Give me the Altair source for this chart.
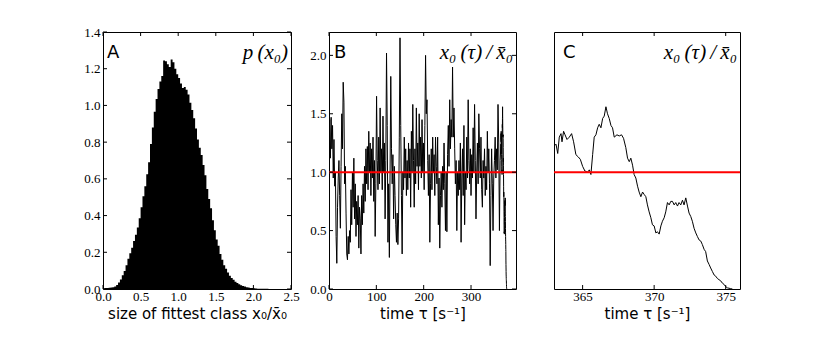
import altair as alt
import pandas as pd
import numpy as np

# ---------------- Panel A: histogram p(x0) ----------------
bin_start = 0.0
bin_width = 0.025
hist_density = [
    0.004, 0.005, 0.006, 0.007, 0.008, 0.010, 0.014, 0.022, 0.035, 0.052,
    0.075, 0.098, 0.130, 0.165, 0.195, 0.225, 0.262, 0.295, 0.335, 0.385,
    0.445, 0.505, 0.560, 0.625, 0.690, 0.790, 0.880, 0.965, 1.035, 1.090,
    1.130, 1.160, 1.245, 1.240, 1.225, 1.210, 1.250, 1.235, 1.200, 1.170,
    1.150, 1.120, 1.095, 1.100, 1.085, 1.060, 1.015, 0.975, 0.930, 0.875,
    0.815, 0.770, 0.730, 0.675, 0.620, 0.545, 0.490, 0.440, 0.375, 0.320,
    0.270, 0.235, 0.190, 0.160, 0.130, 0.110, 0.090, 0.072, 0.060, 0.050,
    0.040, 0.033, 0.026, 0.021, 0.017, 0.013, 0.010, 0.008, 0.006, 0.005,
    0.004, 0.003, 0.002, 0.002, 0.001, 0.001, 0.001, 0.001,
]
a_xticks = [0.0, 0.5, 1.0, 1.5, 2.0, 2.5]
a_yticks = [0.0, 0.2, 0.4, 0.6, 0.8, 1.0, 1.2, 1.4]

# ---------------- Panel B: full time series ----------------
b_time = [
    0, 1.5, 3, 4.5, 6, 7.5, 9, 10.5, 12, 13.5, 15, 16.5, 18, 19.5, 21, 22.5, 24, 25.5, 27, 28.5,
    30, 31.5, 33, 34.5, 36, 37.5, 39, 40.5, 42, 43.5, 45, 46.5, 48, 49.5, 51, 52.5, 54, 55.5, 57, 58.5,
    60, 61.5, 63, 64.5, 66, 67.5, 69, 70.5, 72, 73.5, 75, 76.5, 78, 79.5, 81, 82.5, 84, 85.5, 87, 88.5,
    90, 91.5, 93, 94.5, 96, 97.5, 99, 100.5, 102, 103.5, 105, 106.5, 108, 109.5, 111, 112.5, 114, 115.5, 117, 118.5,
    120, 121.5, 123, 124.5, 126, 127.5, 129, 130.5, 132, 133.5, 135, 136.5, 138, 139.5, 141, 142.5, 144, 145.5, 147, 148.5,
    150, 151.5, 153, 154.5, 156, 157.5, 159, 160.5, 162, 163.5, 165, 166.5, 168, 169.5, 171, 172.5, 174, 175.5, 177, 178.5,
    180, 181.5, 183, 184.5, 186, 187.5, 189, 190.5, 192, 193.5, 195, 196.5, 198, 199.5, 201, 202.5, 204, 205.5, 207, 208.5,
    210, 211.5, 213, 214.5, 216, 217.5, 219, 220.5, 222, 223.5, 225, 226.5, 228, 229.5, 231, 232.5, 234, 235.5, 237, 238.5,
    240, 241.5, 243, 244.5, 246, 247.5, 249, 250.5, 252, 253.5, 255, 256.5, 258, 259.5, 261, 262.5, 264, 265.5, 267, 268.5,
    270, 271.5, 273, 274.5, 276, 277.5, 279, 280.5, 282, 283.5, 285, 286.5, 288, 289.5, 291, 292.5, 294, 295.5, 297, 298.5,
    300, 301.5, 303, 304.5, 306, 307.5, 309, 310.5, 312, 313.5, 315, 316.5, 318, 319.5, 321, 322.5, 324, 325.5, 327, 328.5,
    330, 331.5, 333, 334.5, 336, 337.5, 339, 340.5, 342, 343.5, 345, 346.5, 348, 349.5, 351, 352.5, 354, 355.5, 357, 358.5,
    360, 361.5,
]
b_value = [
    1.30, 1.45, 1.12, 1.47, 1.20, 1.40, 0.95, 1.28, 0.88, 1.00, 0.45, 0.22, 0.70, 0.95, 1.10, 0.80, 0.52, 1.05, 1.50, 1.20,
    1.77, 1.60, 0.90, 1.05, 0.65, 0.30, 0.25, 0.45, 0.30, 0.50, 0.40, 0.85, 0.55, 1.00, 0.70, 1.12, 0.60, 0.90, 0.45, 0.75,
    0.55, 0.80, 0.35, 0.70, 0.60, 0.30, 0.80, 0.55, 0.90, 0.65, 1.05, 0.75, 1.20, 0.90, 1.22, 0.85, 1.35, 1.00, 1.25, 0.80,
    1.20, 0.95, 1.30, 0.75, 1.10, 0.45, 0.90, 1.65, 1.10, 0.85, 1.30, 0.90, 1.55, 1.00, 1.20, 0.85, 1.48, 1.00, 1.25, 0.60,
    1.10, 2.02, 1.40, 0.40, 0.90, 0.27, 1.00, 1.82, 1.20, 0.90, 1.15, 0.60, 1.05, 0.80, 0.55, 0.40, 0.65, 0.38, 0.60, 1.30,
    2.15, 1.40, 0.80, 0.30, 1.00, 0.85, 1.30, 0.95, 1.20, 0.80, 1.10, 0.85, 1.25, 0.95, 1.20, 0.70, 1.35, 1.00, 1.58, 1.10,
    0.70, 1.20, 0.90, 1.55, 1.05, 1.25, 0.85, 1.50, 1.05, 1.30, 0.95, 1.45, 1.00, 1.25, 0.85, 1.40, 2.00, 1.50, 1.62, 1.10,
    0.80, 1.15, 0.40, 0.90, 1.20, 0.85, 1.30, 1.00, 1.15, 0.80, 1.30, 1.05, 0.90, 1.30, 0.55, 0.95, 0.35, 0.80, 1.00, 0.70,
    1.05, 0.85, 1.25, 0.90, 0.50, 1.00, 0.49, 1.15, 1.40, 1.05, 1.62, 1.20, 1.45, 1.30, 1.90, 1.30, 1.55, 1.20, 0.90, 1.10,
    0.50, 1.00, 0.80, 1.10, 0.85, 1.25, 0.40, 0.95, 1.20, 0.80, 1.40, 0.55, 1.00, 0.85, 1.30, 0.95, 1.62, 1.10, 0.90, 1.20,
    0.80, 1.15, 0.95, 1.38, 1.00, 1.58, 1.10, 0.60, 1.00, 1.25, 0.90, 1.50, 1.20, 0.95, 1.30, 0.85, 0.70, 1.10, 0.95, 1.20,
    0.80, 1.05, 0.85, 1.35, 1.00, 1.20, 0.90, 0.20, 0.80, 1.20, 0.90, 0.50, 0.95, 1.10, 1.30, 0.95, 1.20, 1.02, 1.58, 1.25,
    0.50, 1.10,
]

# ---------------- Panel C: zoom on the final seconds ----------------
c_time = [
    362.98, 363.14, 363.26, 363.37, 363.49, 363.56, 363.67, 363.77, 363.91, 364.07,
    364.23, 364.37, 364.53, 364.70, 364.84, 365.00, 365.16, 365.35, 365.47, 365.58,
    365.70, 365.81, 365.93, 366.05, 366.16, 366.28, 366.40, 366.51, 366.63, 366.74,
    366.86, 366.98, 367.09, 367.21, 367.40, 367.56, 367.72, 367.86, 368.02, 368.14,
    368.26, 368.37, 368.49, 368.60, 368.72, 368.84, 368.95, 369.07, 369.19, 369.30,
    369.42, 369.53, 369.65, 369.77, 369.88, 370.00, 370.12, 370.23, 370.35, 370.47,
    370.58, 370.70, 370.81, 370.93, 371.05, 371.16, 371.28, 371.40, 371.51, 371.63,
    371.74, 371.86, 371.98, 372.09, 372.21, 372.33, 372.44, 372.56, 372.67, 372.79,
    372.91, 373.02, 373.14, 373.26, 373.37, 373.49, 373.60, 373.72, 373.84, 373.95,
    374.07, 374.19, 374.30, 374.42, 374.53, 374.65, 374.77, 374.88, 375.00, 375.12,
    375.35, 375.47,
]
c_value = [
    1.22, 1.24, 1.16, 1.30, 1.33, 1.26, 1.35, 1.32, 1.28, 1.30,
    1.33, 1.26, 1.15, 1.13, 1.11, 1.05, 1.01, 1.00, 1.02, 0.98,
    1.15, 1.30, 1.32, 1.38, 1.41, 1.38, 1.46, 1.48, 1.56, 1.50,
    1.46, 1.40, 1.38, 1.30, 1.32, 1.31, 1.32, 1.29, 1.21, 1.12,
    1.09, 1.12, 1.06, 0.98, 0.95, 0.88, 0.83, 0.79, 0.83, 0.81,
    0.79, 0.72, 0.66, 0.61, 0.55, 0.54, 0.48, 0.49, 0.47, 0.54,
    0.58, 0.61, 0.66, 0.74, 0.72, 0.75, 0.75, 0.72, 0.74, 0.71,
    0.74, 0.72, 0.76, 0.72, 0.78, 0.71, 0.65, 0.62, 0.58, 0.52,
    0.48, 0.45, 0.42, 0.41, 0.38, 0.34, 0.32, 0.24, 0.21, 0.18,
    0.15, 0.12, 0.11, 0.09, 0.08, 0.07, 0.05, 0.04, 0.02, 0.01,
    0.003, 0.0,
]

b_xticks = [0, 100, 200, 300]
b_yticks = [0.0, 0.5, 1.0, 1.5, 2.0]
c_xticks = [365, 370, 375]
mean_level = [1.0]

panel_letters = ["A", "B", "C"]
corner_labels = ["p\u2009(x\u2080)", "x\u2080\u2009(\u03c4)\u2009/\u2009x\u0304\u2080", "x\u2080\u2009(\u03c4)\u2009/\u2009x\u0304\u2080"]
x_titles = ["size of fittest class x\u2080/x\u0304\u2080", "time \u03c4 [s\u207b\u00b9]", "time \u03c4 [s\u207b\u00b9]"]

WA, WB, WC, H = 188, 187, 186, 257
TICK = 4
SERIF = "Liberation Serif"
SANS = "DejaVu Sans"


def axis(values, fmt, title):
    return alt.Axis(values=values, format=fmt, title=title, labelOverlap=False, labelFlush=False)


def inner_ticks(xfield, xscale, xaxis, xvals, yfield, yscale, yaxis, yvals, w, h):
    layers = []
    if xvals:
        dx = pd.DataFrame({xfield: xvals})
        ex = alt.X(f"{xfield}:Q", scale=xscale, axis=xaxis)
        layers.append(alt.Chart(dx).mark_rule(color="black", strokeWidth=1).encode(
            x=ex, y=alt.value(h), y2=alt.value(h - TICK)))
        layers.append(alt.Chart(dx).mark_rule(color="black", strokeWidth=1).encode(
            x=ex, y=alt.value(0), y2=alt.value(TICK)))
    if yvals:
        dy = pd.DataFrame({yfield: yvals})
        ey = alt.Y(f"{yfield}:Q", scale=yscale, axis=yaxis)
        layers.append(alt.Chart(dy).mark_rule(color="black", strokeWidth=1).encode(
            y=ey, x=alt.value(0), x2=alt.value(TICK)))
        layers.append(alt.Chart(dy).mark_rule(color="black", strokeWidth=1).encode(
            y=ey, x=alt.value(w - TICK), x2=alt.value(w)))
    return layers


def labels(letter, corner, w, letter_dx):
    d1 = pd.DataFrame({"lab": [letter]})
    d2 = pd.DataFrame({"lab": [corner]})
    t1 = alt.Chart(d1).mark_text(font=SANS, fontSize=18, align="left", baseline="middle",
                                 color="black").encode(
        text="lab:N", x=alt.value(letter_dx), y=alt.value(21))
    t2 = alt.Chart(d2).mark_text(font=SERIF, fontSize=21, fontStyle="italic", align="right",
                                 baseline="middle", color="black").encode(
        text="lab:N", x=alt.value(w - 3), y=alt.value(21))
    return [t1, t2]


# ---- Panel A
edges = list(np.round(bin_start + bin_width * np.arange(len(hist_density) + 1), 4))
dfA = pd.DataFrame({"x": edges, "p": hist_density + [0.0]})
sAx = alt.Scale(domain=[0, 2.5], nice=False, zero=False)
sAy = alt.Scale(domain=[0, 1.4], nice=False, zero=False)
axAx = axis(a_xticks, ".1f", x_titles[0])
axAy = axis(a_yticks, ".1f", None)
histA = alt.Chart(dfA).mark_area(interpolate="step-after", color="black", opacity=1).encode(
    x=alt.X("x:Q", scale=sAx, axis=axAx),
    y=alt.Y("p:Q", scale=sAy, axis=axAy))
panelA = alt.layer(histA, *inner_ticks("x", sAx, axAx, a_xticks, "p", sAy, axAy, a_yticks, WA, H),
                   *labels(panel_letters[0], corner_labels[0], WA, 4)).properties(width=WA, height=H)

# ---- Panel B
dfB = pd.DataFrame({"t": b_time + c_time, "v": b_value + c_value})
sBx = alt.Scale(domain=[0, 395], nice=False, zero=False)
sBy = alt.Scale(domain=[0, 2.2], nice=False, zero=False)
axBx = axis(b_xticks, "d", x_titles[1])
axBy = axis(b_yticks, ".1f", None)
lineB = alt.Chart(dfB).mark_line(color="black", strokeWidth=1, clip=True).encode(
    x=alt.X("t:Q", scale=sBx, axis=axBx),
    y=alt.Y("v:Q", scale=sBy, axis=axBy))
redB = alt.Chart(pd.DataFrame({"v": mean_level})).mark_rule(color="#ff0000", strokeWidth=2).encode(
    y=alt.Y("v:Q", scale=sBy, axis=axBy))
panelB = alt.layer(lineB, redB, *inner_ticks("t", sBx, axBx, b_xticks, "v", sBy, axBy, b_yticks, WB, H),
                   *labels(panel_letters[1], corner_labels[1], WB, 5)).properties(width=WB, height=H)

# ---- Panel C
dfC = pd.DataFrame({"t": c_time, "v": c_value})
sCx = alt.Scale(domain=[363, 376], nice=False, zero=False)
sCy = alt.Scale(domain=[0, 2.2], nice=False, zero=False)
axCx = axis(c_xticks, "d", x_titles[2])
lineC = alt.Chart(dfC).mark_line(color="black", strokeWidth=1, clip=True).encode(
    x=alt.X("t:Q", scale=sCx, axis=axCx),
    y=alt.Y("v:Q", scale=sCy, axis=None))
redC = alt.Chart(pd.DataFrame({"v": mean_level})).mark_rule(color="#ff0000", strokeWidth=2).encode(
    y=alt.Y("v:Q", scale=sCy, axis=None))
panelC = alt.layer(lineC, redC, *inner_ticks("t", sCx, axCx, c_xticks, "v", sCy, None, [], WC, H),
                   *labels(panel_letters[2], corner_labels[2], WC, 9)).properties(width=WC, height=H)

chart = alt.hconcat(panelA, panelB, panelC, spacing=38, bounds="flush").properties(
    padding={"left": 75, "top": 17, "right": 5, "bottom": 5},
).configure_view(
    stroke="black", strokeWidth=1
).configure_axis(
    domain=False, ticks=False, grid=False, labelOverlap=False, labelFlush=False,
    labelFont=SERIF, labelFontSize=13, labelColor="black", labelPadding=3,
    titleFont=SANS, titleFontSize=15, titleFontWeight="normal", titleColor="black", titlePadding=3,
).configure_axisX(labelPadding=1).configure_concat(spacing=38)

chart.save("out.html", embed_options={"renderer": "svg", "actions": False})
